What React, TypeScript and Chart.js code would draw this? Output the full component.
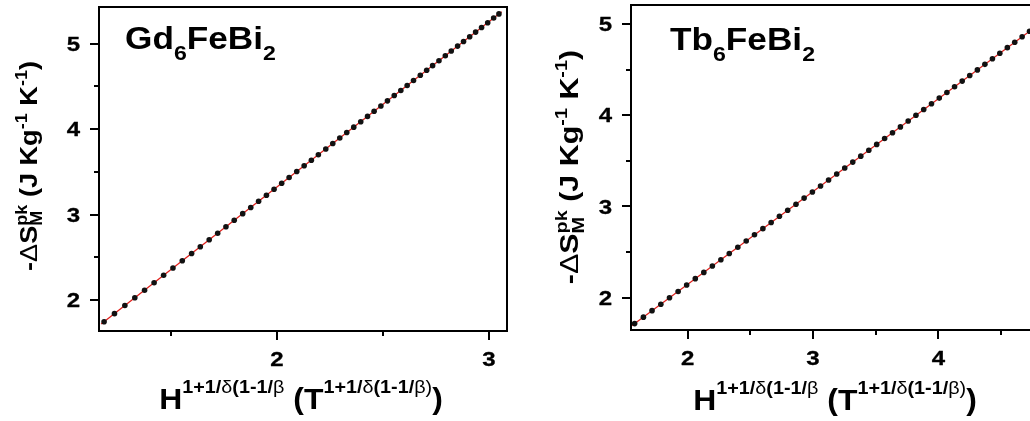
import React, { useEffect, useRef } from "react";
import { Chart, registerables } from "chart.js";

Chart.register(...registerables);

// ---------- data ----------
const GD_X = [1.184, 1.233, 1.282, 1.329, 1.375, 1.420, 1.465, 1.509, 1.553, 1.597, 1.638, 1.680, 1.720, 1.759, 1.798, 1.838, 1.876, 1.913, 1.950, 1.986, 2.022, 2.057, 2.093, 2.128, 2.162, 2.195, 2.230, 2.263, 2.296, 2.329, 2.362, 2.395, 2.427, 2.458, 2.490, 2.521, 2.553, 2.584, 2.614, 2.644, 2.676, 2.706, 2.734, 2.764, 2.794, 2.822, 2.852, 2.880, 2.909, 2.937, 2.965, 2.994, 3.022, 3.047];
const GD_Y = [1.744, 1.839, 1.934, 2.025, 2.114, 2.201, 2.288, 2.373, 2.458, 2.543, 2.623, 2.704, 2.781, 2.857, 2.932, 3.010, 3.083, 3.155, 3.226, 3.296, 3.366, 3.433, 3.503, 3.571, 3.636, 3.700, 3.768, 3.832, 3.896, 3.960, 4.023, 4.087, 4.149, 4.209, 4.271, 4.331, 4.393, 4.453, 4.511, 4.569, 4.631, 4.689, 4.743, 4.801, 4.859, 4.914, 4.972, 5.026, 5.082, 5.136, 5.190, 5.246, 5.301, 5.349];
const GD_FIT_X = [1.17, 3.06];
const GD_FIT_Y = [1.717, 5.374];

const TB_X = [1.577, 1.647, 1.716, 1.786, 1.855, 1.924, 1.992, 2.061, 2.129, 2.197, 2.265, 2.332, 2.400, 2.467, 2.533, 2.600, 2.666, 2.732, 2.798, 2.864, 2.929, 2.995, 3.060, 3.124, 3.189, 3.253, 3.317, 3.381, 3.445, 3.508, 3.571, 3.634, 3.697, 3.759, 3.821, 3.883, 3.945, 4.007, 4.068, 4.129, 4.190, 4.250, 4.311, 4.371, 4.431, 4.490, 4.550, 4.609, 4.668, 4.727, 4.786, 4.844, 4.902];
const TB_Y = [1.715, 1.786, 1.857, 1.928, 1.998, 2.068, 2.138, 2.208, 2.277, 2.347, 2.415, 2.484, 2.553, 2.621, 2.689, 2.757, 2.824, 2.892, 2.959, 3.025, 3.092, 3.158, 3.225, 3.290, 3.356, 3.422, 3.487, 3.552, 3.616, 3.681, 3.745, 3.809, 3.873, 3.937, 4.000, 4.063, 4.126, 4.189, 4.251, 4.313, 4.375, 4.437, 4.498, 4.559, 4.620, 4.681, 4.742, 4.802, 4.862, 4.922, 4.982, 5.041, 5.100];
const TB_FIT_X = [1.548, 4.97];
const TB_FIT_Y = [1.686, 5.169];

// tick values and labels
const GD_X_MAJOR = [2, 3];
const GD_X_LABELS = ["2", "3"];
const GD_X_MINOR = [1.5, 2.5];
const GD_Y_MAJOR = [2, 3, 4, 5];
const GD_Y_LABELS = ["2", "3", "4", "5"];
const GD_Y_MINOR = [2.5, 3.5, 4.5];

const TB_X_MAJOR = [2, 3, 4];
const TB_X_LABELS = ["2", "3", "4"];
const TB_X_MINOR = [2.5, 3.5, 4.5];
const TB_Y_MAJOR = [2, 3, 4, 5];
const TB_Y_LABELS = ["2", "3", "4", "5"];
const TB_Y_MINOR = [2.5, 3.5, 4.5];

// ---------- rich text helpers ----------
const FONT = '"Liberation Sans", Arial, Helvetica, sans-serif';
type Sub = { t: string; size: number; dy: number; w?: string };
type Seg = { t: string; size: number; dy?: number; w?: string; sub?: Sub };

function f(size: number, w?: string) {
  return `${w || "bold"} ${size}px ${FONT}`;
}
function segWidth(ctx: CanvasRenderingContext2D, s: Seg) {
  ctx.font = f(s.size, s.w);
  let w = ctx.measureText(s.t).width;
  if (s.sub) {
    ctx.font = f(s.sub.size, s.sub.w);
    w = Math.max(w, ctx.measureText(s.sub.t).width);
  }
  return w;
}
function put(ctx: CanvasRenderingContext2D, t: string, x: number, y: number, thick: number, w?: string) {
  ctx.fillText(t, x, y);
  if (thick > 0 && (!w || w === "bold")) ctx.strokeText(t, x, y);
}
function drawRich(
  ctx: CanvasRenderingContext2D,
  segs: Seg[],
  x: number,
  y: number,
  stretch: number,
  align: "left" | "center" | "right",
  rotate = false,
  thick = 0
) {
  ctx.save();
  ctx.translate(x, y);
  if (rotate) ctx.rotate(-Math.PI / 2);
  ctx.scale(stretch, 1);
  ctx.textAlign = "left";
  ctx.textBaseline = "alphabetic";
  ctx.fillStyle = "#000";
  ctx.strokeStyle = "#000";
  ctx.lineWidth = thick;
  ctx.lineJoin = "round";
  const total = segs.reduce((a, s) => a + segWidth(ctx, s), 0);
  let cx = align === "center" ? -total / 2 : align === "right" ? -total : 0;
  for (const s of segs) {
    const w = segWidth(ctx, s);
    ctx.font = f(s.size, s.w);
    put(ctx, s.t, cx, s.dy || 0, thick, s.w);
    if (s.sub) {
      ctx.font = f(s.sub.size, s.sub.w);
      put(ctx, s.sub.t, cx, s.sub.dy, thick, s.sub.w);
    }
    cx += w;
  }
  ctx.restore();
}

function xTitleSegs(): Seg[] {
  const S = 18, D = -16;
  return [
    { t: "H", size: 29 },
    { t: "1+1/", size: S, dy: D },
    { t: "δ", size: S, dy: D, w: "normal" },
    { t: "(1-1/", size: S, dy: D },
    { t: "β", size: S, dy: D, w: "normal" },
    { t: " (T", size: 29 },
    { t: "1+1/", size: S, dy: D },
    { t: "δ", size: S, dy: D, w: "normal" },
    { t: "(1-1/", size: S, dy: D },
    { t: "β)", size: S, dy: D, w: "normal" },
    { t: ")", size: 29 },
  ];
}
function yTitleSegs(size: number): Seg[] {
  const s = Math.round(size * 0.66);
  const up = -Math.round(size * 0.42);
  const down = Math.round(size * 0.22);
  return [
    { t: "-", size },
    { t: "Δ", size, w: "normal" },
    { t: "S", size, dy: 0 },
    { t: "pk", size: s, dy: up, sub: { t: "M", size: s, dy: down } },
    { t: " (J Kg", size },
    { t: "-1", size: s, dy: up },
    { t: " K", size },
    { t: "-1", size: s, dy: up },
    { t: ")", size },
  ];
}
function nameSegs(a: string): Seg[] {
  return [
    { t: a, size: 32 },
    { t: "6", size: 21, dy: 11 },
    { t: "FeBi", size: 32 },
    { t: "2", size: 21, dy: 11 },
  ];
}

type Panel = {
  xs: number[]; ys: number[]; fitX: number[]; fitY: number[];
  xMin: number; xMax: number; yMin: number; yMax: number;
  xMajor: number[]; xLabels: string[]; xMinor: number[];
  yMajor: number[]; yLabels: string[]; yMinor: number[];
  padding: { left: number; right: number; top: number; bottom: number };
  width: number; left: number;
  name: Seg[]; namePos: [number, number];
  xTitlePos: [number, number];
  yTitleSize: number; yTitlePos: [number, number]; yStretch: number;
};

function makeFrame(p: Panel) {
  return {
    id: "frame",
    afterDraw(chart: any) {
      const { ctx, chartArea: a, scales } = chart;
      const sx = scales.x, sy = scales.y;
      ctx.save();
      ctx.strokeStyle = "#000";
      ctx.lineWidth = 2;
      ctx.strokeRect(a.left, a.top, a.right - a.left, a.bottom - a.top);
      ctx.beginPath();
      p.xMajor.forEach((v) => {
        const x = Math.round(sx.getPixelForValue(v));
        ctx.moveTo(x, a.bottom); ctx.lineTo(x, a.bottom + 9);
      });
      p.xMinor.forEach((v) => {
        const x = Math.round(sx.getPixelForValue(v));
        ctx.moveTo(x, a.bottom); ctx.lineTo(x, a.bottom + 5);
      });
      p.yMajor.forEach((v) => {
        const y = Math.round(sy.getPixelForValue(v));
        ctx.moveTo(a.left, y); ctx.lineTo(a.left - 9, y);
      });
      p.yMinor.forEach((v) => {
        const y = Math.round(sy.getPixelForValue(v));
        ctx.moveTo(a.left, y); ctx.lineTo(a.left - 5, y);
      });
      ctx.stroke();
      ctx.restore();

      // tick labels
      const TS = 20, TST = 1.2, OFF = 0.358 * TS;
      p.xMajor.forEach((v, i) => {
        const x = sx.getPixelForValue(v);
        drawRich(ctx, [{ t: p.xLabels[i], size: TS }], x, a.bottom + 28 + OFF, TST, "center", false, 0.3);
      });
      p.yMajor.forEach((v, i) => {
        const y = sy.getPixelForValue(v);
        drawRich(ctx, [{ t: p.yLabels[i], size: TS }], a.left - 19, y + OFF, TST, "right", false, 0.3);
      });

      // titles
      drawRich(ctx, p.name, p.namePos[0], p.namePos[1], 1.1, "left", false, 0);
      drawRich(ctx, xTitleSegs(), p.xTitlePos[0], p.xTitlePos[1], 1.1, "center", false, 0);
      drawRich(ctx, yTitleSegs(p.yTitleSize), p.yTitlePos[0], p.yTitlePos[1], p.yStretch, "center", true, 0);
    },
  };
}

const PANELS: Panel[] = [
  {
    xs: GD_X, ys: GD_Y, fitX: GD_FIT_X, fitY: GD_FIT_Y,
    xMin: 1.16, xMax: 3.085, yMin: 1.636, yMax: 5.43,
    xMajor: GD_X_MAJOR, xLabels: GD_X_LABELS, xMinor: GD_X_MINOR,
    yMajor: GD_Y_MAJOR, yLabels: GD_Y_LABELS, yMinor: GD_Y_MINOR,
    padding: { left: 99, right: 8, top: 7, bottom: 90 },
    width: 515, left: 0,
    name: nameSegs("Gd"), namePos: [125, 49],
    xTitlePos: [301, 409],
    yTitleSize: 24, yTitlePos: [37, 166], yStretch: 1.13,
  },
  {
    xs: TB_X, ys: TB_Y, fitX: TB_FIT_X, fitY: TB_FIT_Y,
    xMin: 1.548, xMax: 4.97, yMin: 1.645, yMax: 5.21,
    xMajor: TB_X_MAJOR, xLabels: TB_X_LABELS, xMinor: TB_X_MINOR,
    yMajor: TB_Y_MAJOR, yLabels: TB_Y_LABELS, yMinor: TB_Y_MINOR,
    padding: { left: 111, right: 20, top: 5, bottom: 91 },
    width: 560, left: 520,
    name: nameSegs("Tb"), namePos: [150, 50],
    xTitlePos: [315, 410],
    yTitleSize: 26, yTitlePos: [58, 167], yStretch: 1.17,
  },
];

function PanelChart({ p }: { p: Panel }) {
  const ref = useRef<HTMLCanvasElement>(null);
  useEffect(() => {
    if (!ref.current) return;
    const chart = new Chart(ref.current, {
      type: "scatter",
      data: {
        datasets: [
          {
            data: p.xs.map((x, i) => ({ x, y: p.ys[i] })),
            backgroundColor: "#111",
            borderColor: "#111",
            pointRadius: 2.8,
            pointBorderWidth: 0,
            showLine: false,
          },
          {
            data: p.fitX.map((x, i) => ({ x, y: p.fitY[i] })),
            borderColor: "#e0201c",
            borderWidth: 1.3,
            pointRadius: 0,
            showLine: true,
            fill: false,
          },
        ],
      },
      options: {
        responsive: false,
        animation: false,
        layout: { padding: p.padding },
        plugins: { legend: { display: false }, tooltip: { enabled: false } },
        scales: {
          x: { type: "linear", min: p.xMin, max: p.xMax, display: false },
          y: { type: "linear", min: p.yMin, max: p.yMax, display: false },
        },
      },
      plugins: [makeFrame(p)],
    });
    return () => chart.destroy();
  }, [p]);
  return (
    <canvas
      ref={ref}
      width={p.width}
      height={421}
      style={{ position: "absolute", left: p.left, top: 0, width: p.width, height: 421 }}
    />
  );
}

export default function App() {
  return (
    <div
      style={{
        position: "fixed",
        left: 0,
        top: 0,
        width: 1030,
        height: 421,
        overflow: "hidden",
        background: "#fff",
      }}
    >
      {PANELS.map((p, i) => (
        <PanelChart key={i} p={p} />
      ))}
    </div>
  );
}
